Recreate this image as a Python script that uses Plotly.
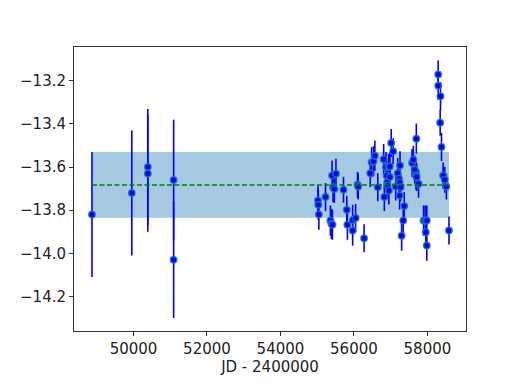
import plotly.graph_objects as go

jd = [48870, 49955, 50390, 50390, 51093, 51093,
      55022, 55030, 55045, 55227, 55360, 55387, 55414, 55405, 55431, 55467,
      55511, 55716, 55805, 55822, 55965, 55965, 56045, 56098, 56116, 56276,
      56444, 56481, 56534, 56569, 56649, 56809, 56827, 56871, 56889, 56907,
      56916, 56942, 56978, 56978, 56951, 57014, 57067, 57137, 57191, 57227,
      57244, 57254, 57270, 57244, 57369, 57342, 57298, 57582, 57617, 57654,
      57689, 57707, 57760, 57698, 57894, 57938, 57983, 57956, 57983, 58294,
      58294, 58356, 58347, 58383, 58427, 58472, 58516, 58587]
mag = [-13.82, -13.72, -13.60, -13.63, -13.66, -14.03,
       -13.755, -13.774, -13.820, -13.739, -13.848, -13.863, -13.867, -13.639,
       -13.693, -13.701, -13.631, -13.705, -13.798, -13.867, -13.845, -13.894,
       -13.836, -13.682, -13.690, -13.930, -13.628, -13.577, -13.573, -13.547,
       -13.693, -13.563, -13.739, -13.600, -13.639, -13.670, -13.685, -13.600,
       -13.597, -13.646, -13.708, -13.488, -13.526, -13.690, -13.628, -13.654,
       -13.670, -13.592, -13.693, -13.732, -13.780, -13.848, -13.918, -13.581,
       -13.566, -13.612, -13.639, -13.646, -13.677, -13.468, -13.848, -13.848,
       -13.848, -13.902, -13.964, -13.170, -13.223, -13.271, -13.394, -13.507,
       -13.639, -13.659, -13.690, -13.894]
err = [0.29, 0.29, 0.27, 0.27, 0.28, 0.27,
       0.07, 0.07, 0.07, 0.065, 0.07, 0.07, 0.07, 0.07, 0.07, 0.065,
       0.07, 0.06, 0.065, 0.07, 0.07, 0.07, 0.065, 0.06, 0.06, 0.065,
       0.065, 0.07, 0.07, 0.07, 0.065, 0.07, 0.065, 0.07, 0.07, 0.06,
       0.06, 0.06, 0.065, 0.065, 0.065, 0.065, 0.06, 0.065, 0.07, 0.065,
       0.065, 0.065, 0.065, 0.065, 0.065, 0.07, 0.07, 0.065, 0.065, 0.065,
       0.065, 0.065, 0.065, 0.07, 0.07, 0.07, 0.07, 0.07, 0.07, 0.065,
       0.065, 0.065, 0.06, 0.065, 0.06, 0.06, 0.06, 0.065]

mean_mag = -13.683
band_lo = -13.835
band_hi = -13.530

x_ticks = [50000, 52000, 54000, 56000, 58000]
y_ticks = [-14.2, -14.0, -13.8, -13.6, -13.4, -13.2]

fig = go.Figure()

# scatter band (mean +/- std)
fig.add_shape(type='rect', xref='x', yref='y',
              x0=min(jd), x1=max(jd), y0=band_lo, y1=band_hi,
              fillcolor='rgba(31,119,180,0.4)', line=dict(width=0),
              layer='below')

fig.add_trace(go.Scatter(
    x=jd, y=mag, mode='markers',
    error_y=dict(type='data', array=err, color='blue', thickness=1.6, width=0),
    marker=dict(color='blue', size=6.5,
                line=dict(color='rgba(31,119,180,0.8)', width=1.5)),
    showlegend=False))

fig.add_trace(go.Scatter(
    x=[min(jd), max(jd)], y=[mean_mag, mean_mag], mode='lines',
    line=dict(color='green', width=1.6, dash='5px,2.5px'),
    showlegend=False))

axis_style = dict(showgrid=False, zeroline=False, showline=True,
                  linecolor='#333333', linewidth=1, mirror=True,
                  ticks='outside', ticklen=4, tickcolor='#333333',
                  tickfont=dict(family='DejaVu Sans', size=15, color='#222222'))

# page body has an 8px margin, so the figure is a bit smaller than the window
fig.update_layout(
    width=510, height=380,
    margin=dict(l=57, r=52, t=39, b=57),
    paper_bgcolor='white', plot_bgcolor='white',
    xaxis=dict(range=[48381, 59050], tickvals=x_ticks, tickformat='d',
               title=dict(text='JD - 2400000', standoff=2,
                          font=dict(family='DejaVu Sans', size=15, color='#222222')),
               **axis_style),
    yaxis=dict(range=[-14.36, -13.043], tickvals=y_ticks, tickformat='.1f',
               **axis_style),
)

fig.write_html("out.html")
